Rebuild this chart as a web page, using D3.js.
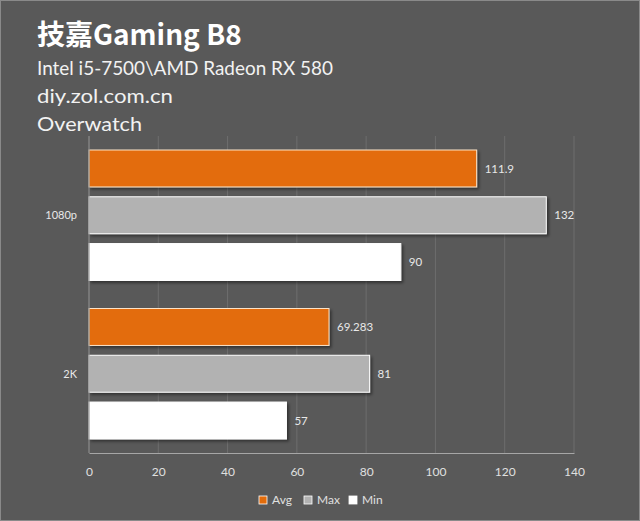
<!DOCTYPE html>
<html>
<head>
<meta charset="utf-8">
<script src="https://cdn.jsdelivr.net/npm/d3@7"></script>
<style>
  body { margin: 0; background: #595959; }
  svg { display: block; }
</style>
</head>
<body>
<svg id="chart"></svg>
<script>
// chart data
const categories = ["1080p", "2K"];
const series = ["Avg", "Max", "Min"];
const avgValues = [111.9, 69.283];
const maxValues = [132, 81];
const minValues = [90, 57];
const xTicks = [0, 20, 40, 60, 80, 100, 120, 140];
const titleText = "技嘉Gaming B8";
const subTitles = ["Intel i5-7500\\AMD Radeon RX 580", "diy.zol.com.cn", "Overwatch"];

const width = 640, height = 521;
const colors = {Avg: "#e36c0a", Max: "#b2b2b2", Min: "#ffffff"};
const strokes = {Avg: "#fbe3c8", Max: "#ffffff", Min: "#ffffff"};
const valuesBy = {Avg: avgValues, Max: maxValues, Min: minValues};
const margin = {top: 136, left: 89, right: 66, bottom: 68};
// widths of the header lines as measured on the original
const subWidths = [296, 136, 105];

const svg = d3.select("#chart")
  .attr("width", width)
  .attr("height", height)
  .style("font-family", "Lato, 'Noto Sans', sans-serif");

svg.append("rect")
  .attr("x", 0.5).attr("y", 0.5)
  .attr("width", width - 1).attr("height", height - 1)
  .attr("fill", "#595959")
  .attr("stroke", "#8a8a8a");

// drop shadow for bars
const defs = svg.append("defs");
const f = defs.append("filter").attr("id", "shadow")
  .attr("x", "-5%").attr("y", "-20%").attr("width", "115%").attr("height", "160%");
f.append("feDropShadow").attr("dx", 2).attr("dy", 2).attr("stdDeviation", 1.5)
  .attr("flood-color", "#000").attr("flood-opacity", 0.45);

// titles
svg.append("text")
  .attr("x", 37).attr("y", 45)
  .attr("fill", "#ffffff")
  .style("font-size", "28px")
  .style("font-weight", "bold")
  .style("font-family", "'Noto Sans CJK SC', 'Noto Sans', sans-serif")
  .text(titleText);

subTitles.forEach((t, i) => {
  svg.append("text")
    .attr("x", 37).attr("y", 75 + i * 28)
    .attr("fill", "#f2f2f2")
    .attr("textLength", subWidths[i])
    .attr("lengthAdjust", "spacingAndGlyphs")
    .style("font-size", "20px")
    .text(t);
});

const plotW = width - margin.left - margin.right;
const plotBottom = height - margin.bottom;

const x = d3.scaleLinear().domain([0, 140]).range([margin.left, margin.left + plotW]);
const y0 = d3.scaleBand().domain(categories).range([margin.top, plotBottom]);
const y1 = d3.scaleBand().domain(series)
  .range([14, y0.bandwidth() - 14])
  .paddingInner(0.21);

// gridlines
svg.append("g").selectAll("line")
  .data(xTicks)
  .join("line")
  .attr("x1", d => x(d)).attr("x2", d => x(d))
  .attr("y1", margin.top).attr("y2", plotBottom)
  .attr("stroke", "#6e6e6e")
  .attr("stroke-width", 1);

// bars
const groups = svg.append("g").selectAll("g")
  .data(categories)
  .join("g")
  .attr("transform", d => `translate(0,${y0(d)})`);

groups.each(function(cat, ci) {
  const g = d3.select(this);
  series.forEach(s => {
    const v = valuesBy[s][ci];
    g.append("rect")
      .attr("x", x(0))
      .attr("y", y1(s))
      .attr("width", x(v) - x(0))
      .attr("height", y1.bandwidth())
      .attr("fill", colors[s])
      .attr("stroke", strokes[s])
      .attr("stroke-width", 1)
      .attr("filter", "url(#shadow)");
    g.append("text")
      .attr("x", x(v) + 8)
      .attr("y", y1(s) + y1.bandwidth() / 2)
      .attr("dy", "0.35em")
      .attr("fill", "#e8e8e8")
      .style("font-size", "11.5px")
      .text(v);
  });
});

// category axis line and labels
svg.append("line")
  .attr("x1", x(0)).attr("x2", x(0))
  .attr("y1", margin.top).attr("y2", plotBottom)
  .attr("stroke", "#8c8c8c");

svg.append("g").selectAll("text")
  .data(categories)
  .join("text")
  .attr("x", 77)
  .attr("y", d => y0(d) + y0.bandwidth() / 2)
  .attr("dy", "0.35em")
  .attr("text-anchor", "end")
  .attr("fill", "#e8e8e8")
  .style("font-size", "11px")
  .text(d => d);

// value axis
const xAxis = svg.append("g")
  .attr("transform", `translate(0,${plotBottom})`)
  .call(d3.axisBottom(x).tickValues(xTicks).tickSize(0).tickPadding(14));
xAxis.select(".domain").attr("stroke", "#a6a6a6");
xAxis.selectAll("text")
  .attr("fill", "#e0e0e0")
  .style("font-size", "12px")
  .style("font-family", "Lato, 'Noto Sans', sans-serif");

// legend
const legend = svg.append("g").attr("transform", "translate(259,500)");
const legendX = d3.scalePoint().domain(series).range([0, 90]);
series.forEach(s => {
  const lg = legend.append("g").attr("transform", `translate(${legendX(s)},0)`);
  lg.append("rect")
    .attr("x", 0).attr("y", -4)
    .attr("width", 8).attr("height", 8)
    .attr("fill", colors[s])
    .attr("stroke", "#ffffff").attr("stroke-width", 0.8);
  lg.append("text")
    .attr("x", 13).attr("y", 0)
    .attr("dy", "0.35em")
    .attr("fill", "#e0e0e0")
    .style("font-size", "12px")
    .text(s);
});
</script>
</body>
</html>
